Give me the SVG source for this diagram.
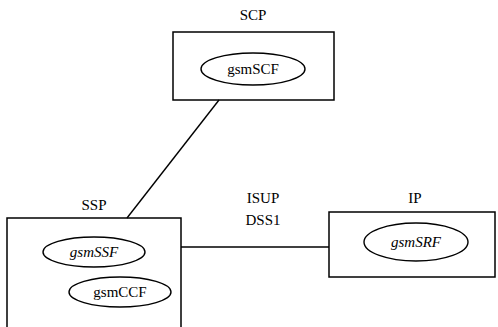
<svg xmlns="http://www.w3.org/2000/svg" width="498" height="327" viewBox="0 0 498 327">
<style>
.box{fill:none;stroke:#000;stroke-width:1.5}
.ell{fill:none;stroke:#000;stroke-width:1.4}
.ln{stroke:#000;stroke-width:1.4;fill:none}
text{font-family:"Liberation Serif","Times New Roman",serif;font-size:15px;fill:#000;text-anchor:middle}
</style>
<rect width="498" height="327" fill="#fff"/>
<g id="connectors">
<line class="ln" x1="219" y1="100" x2="127" y2="218"/>
<line class="ln" x1="181" y1="247" x2="329" y2="247"/>
<text x="263" y="203">ISUP</text>
<text x="263" y="225">DSS1</text>
</g>
<g id="SCP">
<text x="253" y="20">SCP</text>
<rect class="box" x="173" y="32" width="161" height="68"/>
<ellipse class="ell" cx="253" cy="69" rx="52" ry="16"/>
<text x="253" y="74">gsmSCF</text>
</g>
<g id="SSP">
<text x="94" y="210">SSP</text>
<path class="box" d="M7,330 V218 H181 V330"/>
<ellipse class="ell" cx="94" cy="252" rx="51" ry="15"/>
<text x="94" y="257" font-style="italic">gsmSSF</text>
<ellipse class="ell" cx="120" cy="292" rx="51" ry="15"/>
<text x="120" y="297">gsmCCF</text>
</g>
<g id="IP">
<text x="415" y="203">IP</text>
<rect class="box" x="329" y="212" width="166" height="65"/>
<ellipse class="ell" cx="416" cy="242" rx="52" ry="19"/>
<text x="416" y="247" font-style="italic">gsmSRF</text>
</g>
</svg>
